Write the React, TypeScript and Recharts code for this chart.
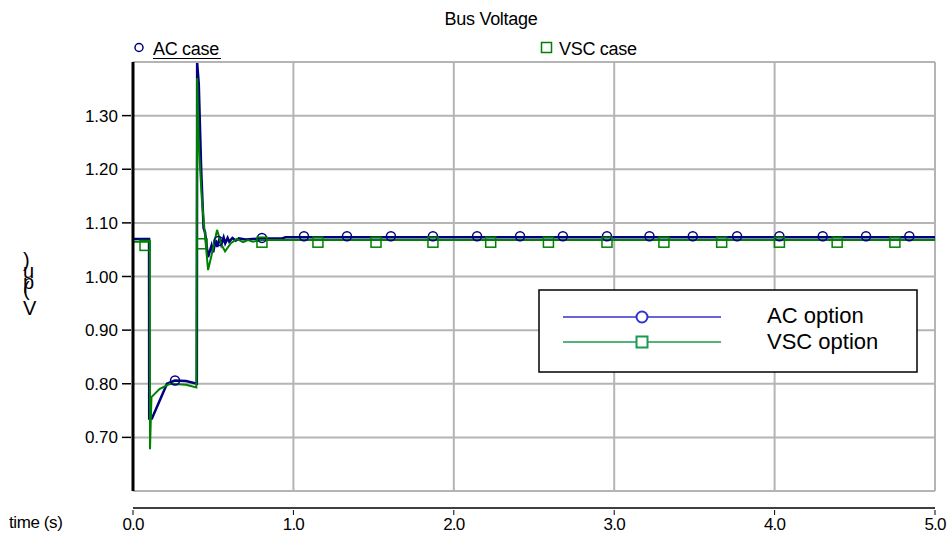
import { ComposedChart, Line, Scatter, XAxis, YAxis, CartesianGrid } from "recharts";

// the picture is cut at the body box, so the page margin is moved into the wrapper
document.body.style.margin = "0";

// time (s) and bus voltage (pu)
const acTime = [0, 0.1, 0.101, 0.118, 0.212, 0.26, 0.33, 0.398, 0.4, 0.41, 0.425, 0.44, 0.449, 0.468, 0.49, 0.5, 0.515, 0.525, 0.54, 0.55, 0.565, 0.575, 0.59, 0.6, 0.62, 0.64, 0.66, 0.7, 0.8, 0.93, 0.95, 1.0, 5.0];
const acVolt = [1.07, 1.07, 0.735, 0.735, 0.8, 0.806, 0.805, 0.8, 1.398, 1.36, 1.2, 1.09, 1.083, 1.036, 1.058, 1.045, 1.068, 1.055, 1.072, 1.06, 1.073, 1.062, 1.072, 1.065, 1.072, 1.067, 1.071, 1.069, 1.071, 1.071, 1.073, 1.073, 1.073];

const vscTime = [0, 0.105, 0.106, 0.115, 0.165, 0.23, 0.33, 0.395, 0.4, 0.41, 0.43, 0.468, 0.49, 0.524, 0.55, 0.574, 0.61, 0.648, 0.686, 0.717, 0.748, 0.8, 5.0];
const vscVolt = [1.065, 1.065, 0.678, 0.775, 0.79, 0.8, 0.798, 0.793, 1.37, 1.245, 1.14, 1.012, 1.04, 1.087, 1.06, 1.047, 1.062, 1.07, 1.064, 1.068, 1.065, 1.068, 1.068];

// marker symbols along each curve
const acMarkTime = [0.262, 0.533, 0.804, 1.066, 1.334, 1.608, 1.87, 2.145, 2.413, 2.68, 2.955, 3.22, 3.49, 3.766, 4.03, 4.3, 4.57, 4.84];
const acMarkVolt = [0.806, 1.066, 1.072, 1.075, 1.075, 1.075, 1.075, 1.075, 1.075, 1.075, 1.075, 1.075, 1.075, 1.075, 1.075, 1.075, 1.075, 1.075];
const vscMarkTime = [0.075, 0.43, 0.804, 1.153, 1.515, 1.87, 2.23, 2.59, 2.955, 3.31, 3.67, 4.03, 4.39, 4.75];
const vscMarkVolt = [1.058, 1.061, 1.064, 1.064, 1.064, 1.064, 1.064, 1.064, 1.064, 1.064, 1.064, 1.064, 1.064, 1.064];

const xTicks = [0, 1, 2, 3, 4, 5];
const yTicks = [0.6, 0.7, 0.8, 0.9, 1.0, 1.1, 1.2, 1.3, 1.4];

const AC = "#000080";
const VSC = "#008000";
const FONT = "'Liberation Sans', Arial, sans-serif";

const zip = (ts: number[], vs: number[]) => ts.map((t, i) => ({ t, v: vs[i] }));

const acData = zip(acTime, acVolt);
const vscData = zip(vscTime, vscVolt);
const acMarks = zip(acMarkTime, acMarkVolt);
const vscMarks = zip(vscMarkTime, vscMarkVolt);

function YTick({ x, y, payload }: any) {
  const v = payload.value;
  if (v < 0.65 || v > 1.35) return null;
  return (
    <g>
      <line x1={x - 9} x2={x} y1={y} y2={y} stroke="#000" strokeWidth={1.5} />
      <text x={x - 13} y={y} dy="0.36em" textAnchor="end" fontSize={17} fontFamily={FONT} fill="#000">
        {v.toFixed(2)}
      </text>
    </g>
  );
}

function XTick({ x, y, payload }: any) {
  return (
    <g>
      <line x1={x} x2={x} y1={y} y2={y + 5} stroke="#000" strokeWidth={1} />
      <text x={x} y={y + 20} textAnchor="middle" fontSize={17} fontFamily={FONT} letterSpacing={-0.8} fill="#000">
        {payload.value.toFixed(1)}
      </text>
    </g>
  );
}

const circleShape = (p: any) => (
  <circle cx={p.cx} cy={p.cy} r={4.5} fill="none" stroke={AC} strokeWidth={1.5} />
);
const squareShape = (p: any) => (
  <rect x={p.cx - 5} y={p.cy - 5} width={10} height={10} fill="none" stroke={VSC} strokeWidth={1.5} />
);

export default function App() {
  const W = 941;
  const H = 527;
  return (
    <div style={{ paddingTop: 8, paddingLeft: 8, width: W, height: H, fontFamily: FONT }}>
      <div style={{ position: "relative", width: W, height: H }}>
        <ComposedChart width={W} height={H} margin={{ top: 54, right: 14, bottom: 0, left: 0 }}>
          <CartesianGrid xAxisId="time" stroke="#b4b4b4" strokeWidth={2} />
          {/* empty band between plot and time axis */}
          <XAxis xAxisId="gap" type="number" height={17} axisLine={false} tickLine={false} tick={false} />
          <XAxis
            xAxisId="time"
            dataKey="t"
            type="number"
            domain={[0, 5]}
            ticks={xTicks}
            interval={0}
            height={27}
            axisLine={{ stroke: "#000", strokeWidth: 1.5 }}
            tickLine={false}
            tickSize={0}
            tick={<XTick />}
            allowDataOverflow
          />
          <YAxis
            dataKey="v"
            type="number"
            domain={[0.6, 1.4]}
            ticks={yTicks}
            interval={0}
            width={125}
            axisLine={{ stroke: "#000", strokeWidth: 3 }}
            tickLine={false}
            tickSize={0}
            tick={<YTick />}
            allowDataOverflow
          />
          <Line xAxisId="time" data={acData} dataKey="v" type="linear" stroke={AC} strokeWidth={2.5} dot={false} isAnimationActive={false} />
          <Line xAxisId="time" data={vscData} dataKey="v" type="linear" stroke={VSC} strokeWidth={2} dot={false} isAnimationActive={false} />
          <Scatter xAxisId="time" data={acMarks} dataKey="v" shape={circleShape} isAnimationActive={false} />
          <Scatter xAxisId="time" data={vscMarks} dataKey="v" shape={squareShape} isAnimationActive={false} />
        </ComposedChart>

        {/* title, legends and axis captions */}
        <svg width={W} height={H} style={{ position: "absolute", left: 0, top: 0, pointerEvents: "none" }} fontFamily={FONT}>
          <text x={483} y={17} textAnchor="middle" fontSize={18} letterSpacing={-0.3}>Bus Voltage</text>

          <circle cx={131} cy={39.5} r={4} fill="none" stroke={AC} strokeWidth={1.5} />
          <text x={145} y={47} fontSize={18} letterSpacing={-0.3}>AC case</text>
          <line x1={145} x2={213} y1={50.5} y2={50.5} stroke="#000" strokeWidth={1} />

          <rect x={533.5} y={34.5} width={10} height={10} fill="none" stroke={VSC} strokeWidth={1.5} />
          <text x={551} y={47} fontSize={18} letterSpacing={-0.3}>VSC case</text>

          {/* y caption: upright glyphs stacked bottom to top */}
          <text x={15} y={307} transform="rotate(-90 15 307)" rotate="90" fontSize={20}>V (pu)</text>

          <text x={1} y={520} fontSize={17} letterSpacing={-0.4}>time (s)</text>

          <rect x={531} y={282} width={378} height={82} fill="#fff" stroke="#000" strokeWidth={1.5} />
          <line x1={555} x2={713} y1={309} y2={309} stroke="#3333cc" strokeWidth={1.5} />
          <circle cx={634} cy={309} r={5.5} fill="#fff" stroke="#3333cc" strokeWidth={2} />
          <text x={759} y={315} fontSize={22}>AC option</text>
          <line x1={555} x2={713} y1={334} y2={334} stroke="#1a9a50" strokeWidth={1.5} />
          <rect x={628.5} y={328.5} width={11} height={11} fill="#fff" stroke="#1a9a50" strokeWidth={2} />
          <text x={759} y={341} fontSize={22}>VSC option</text>
        </svg>
      </div>
    </div>
  );
}
